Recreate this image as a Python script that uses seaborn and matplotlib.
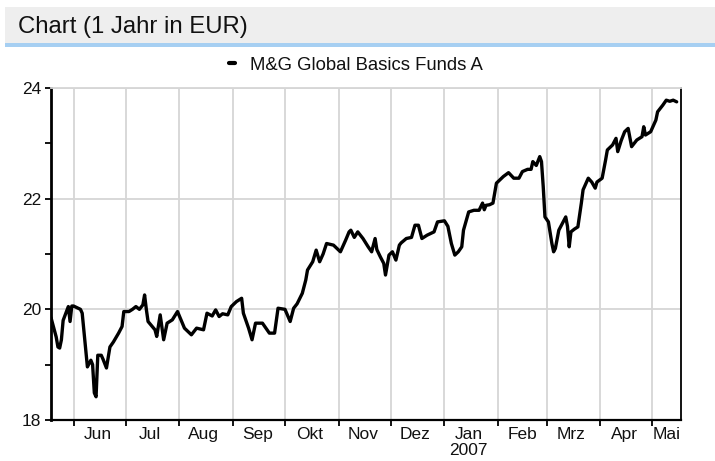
import matplotlib
matplotlib.use("Agg")
import matplotlib.pyplot as plt
import seaborn as sns
import pandas as pd
from matplotlib.patches import Rectangle

# ---------------- data ----------------
series_name = "M&G Global Basics Funds A"
title_text = "Chart (1 Jahr in EUR)"

dates = [
    "2006-05-19", "2006-05-22", "2006-05-23", "2006-05-24", "2006-05-25", "2006-05-26",
    "2006-05-29", "2006-05-30", "2006-05-31", "2006-06-01", "2006-06-05", "2006-06-06",
    "2006-06-07", "2006-06-08", "2006-06-09", "2006-06-11", "2006-06-12", "2006-06-13",
    "2006-06-14", "2006-06-15", "2006-06-17", "2006-06-18", "2006-06-20", "2006-06-22",
    "2006-06-24", "2006-06-27", "2006-06-29", "2006-06-30", "2006-07-03", "2006-07-05",
    "2006-07-07", "2006-07-09", "2006-07-11", "2006-07-12", "2006-07-13", "2006-07-14",
    "2006-07-18", "2006-07-19", "2006-07-21", "2006-07-23", "2006-07-25", "2006-07-28",
    "2006-07-31", "2006-08-04", "2006-08-08", "2006-08-11", "2006-08-15", "2006-08-17",
    "2006-08-20", "2006-08-22", "2006-08-24", "2006-08-26", "2006-08-29", "2006-08-31",
    "2006-09-03", "2006-09-06", "2006-09-07", "2006-09-10", "2006-09-12", "2006-09-14",
    "2006-09-18", "2006-09-20", "2006-09-22", "2006-09-25", "2006-09-27", "2006-10-01",
    "2006-10-04", "2006-10-06", "2006-10-08", "2006-10-11", "2006-10-13", "2006-10-14",
    "2006-10-17", "2006-10-19", "2006-10-21", "2006-10-23", "2006-10-25", "2006-10-29",
    "2006-11-02", "2006-11-05", "2006-11-07", "2006-11-08", "2006-11-10", "2006-11-12",
    "2006-11-15", "2006-11-18", "2006-11-20", "2006-11-22", "2006-11-23", "2006-11-25",
    "2006-11-27", "2006-11-28", "2006-11-30", "2006-12-02", "2006-12-04", "2006-12-06",
    "2006-12-07", "2006-12-10", "2006-12-13", "2006-12-15", "2006-12-17", "2006-12-19",
    "2006-12-22", "2006-12-26", "2006-12-28", "2007-01-01", "2007-01-03", "2007-01-05",
    "2007-01-07", "2007-01-09", "2007-01-11", "2007-01-12", "2007-01-15", "2007-01-18",
    "2007-01-21", "2007-01-23", "2007-01-24", "2007-01-25", "2007-01-27", "2007-01-29",
    "2007-01-31", "2007-02-01", "2007-02-04", "2007-02-07", "2007-02-10", "2007-02-13",
    "2007-02-15", "2007-02-18", "2007-02-20", "2007-02-21", "2007-02-23", "2007-02-25",
    "2007-02-26", "2007-02-27", "2007-02-28", "2007-03-02", "2007-03-04", "2007-03-05",
    "2007-03-06", "2007-03-08", "2007-03-10", "2007-03-12", "2007-03-13", "2007-03-14",
    "2007-03-15", "2007-03-17", "2007-03-19", "2007-03-21", "2007-03-22", "2007-03-25",
    "2007-03-27", "2007-03-29", "2007-03-30", "2007-04-02", "2007-04-04", "2007-04-05",
    "2007-04-08", "2007-04-10", "2007-04-11", "2007-04-13", "2007-04-15", "2007-04-17",
    "2007-04-19", "2007-04-22", "2007-04-25", "2007-04-26", "2007-04-27", "2007-04-30",
    "2007-05-03", "2007-05-04", "2007-05-07", "2007-05-09", "2007-05-11", "2007-05-13",
    "2007-05-15",
]

values = [
    19.85, 19.50, 19.32, 19.30, 19.45, 19.80,
    20.05, 19.78, 20.06, 20.06, 20.00, 19.93,
    19.60, 19.26, 18.96, 19.08, 19.00, 18.49,
    18.42, 19.17, 19.17, 19.10, 18.94, 19.32,
    19.41, 19.57, 19.69, 19.96, 19.96, 20.00,
    20.05, 20.00, 20.08, 20.26, 20.00, 19.78,
    19.63, 19.51, 19.90, 19.45, 19.75, 19.81,
    19.96, 19.66, 19.54, 19.66, 19.63, 19.93,
    19.88, 19.99, 19.87, 19.92, 19.90, 20.05,
    20.14, 20.20, 19.93, 19.66, 19.45, 19.75,
    19.75, 19.66, 19.57, 19.57, 20.02, 20.00,
    19.78, 20.02, 20.10, 20.29, 20.53, 20.71,
    20.86, 21.07, 20.86, 21.00, 21.19, 21.16,
    21.04, 21.25, 21.40, 21.43, 21.30, 21.40,
    21.28, 21.13, 21.04, 21.28, 21.08, 20.95,
    20.83, 20.62, 20.98, 21.04, 20.89, 21.16,
    21.20, 21.28, 21.30, 21.52, 21.52, 21.28,
    21.34, 21.40, 21.58, 21.60, 21.50, 21.19,
    20.98, 21.04, 21.13, 21.43, 21.76, 21.79,
    21.79, 21.92, 21.80, 21.88, 21.89, 21.92,
    22.28, 22.31, 22.40, 22.47, 22.37, 22.37,
    22.49, 22.53, 22.53, 22.67, 22.60, 22.76,
    22.67, 22.22, 21.67, 21.58, 21.19, 21.04,
    21.10, 21.43, 21.55, 21.67, 21.50, 21.13,
    21.40, 21.45, 21.49, 21.92, 22.16, 22.37,
    22.30, 22.19, 22.30, 22.37, 22.70, 22.88,
    22.97, 23.09, 22.85, 23.05, 23.21, 23.27,
    22.94, 23.06, 23.12, 23.30, 23.15, 23.21,
    23.42, 23.57, 23.69, 23.78, 23.76, 23.78,
    23.75,
]

month_labels = ["Jun", "Jul", "Aug", "Sep", "Okt", "Nov", "Dez", "Jan\n2007",
                "Feb", "Mrz", "Apr", "Mai"]
y_major = [18, 20, 22, 24]
y_minor = [19, 21, 23]

# ---------------- style ----------------
sns.set_theme(style="white")
plt.rcParams['font.family'] = ['Liberation Sans', 'DejaVu Sans']

W, H = 715, 461
fig = plt.figure(figsize=(W / 100, H / 100), dpi=100)
fig.patch.set_facecolor("white")

# header band
fig.add_artist(Rectangle((5 / W, 1 - 43.5 / H), (W - 5) / W, 36.5 / H,
                         transform=fig.transFigure, facecolor="#eeeeee",
                         edgecolor="none"))
fig.add_artist(Rectangle((5 / W, 1 - 47 / H), (W - 5) / W, 3.5 / H,
                         transform=fig.transFigure, facecolor="#a6cff2",
                         edgecolor="none"))
fig.text(18 / W, 1 - 27 / H, title_text, fontsize=17.2, va="center", ha="left",
         color="#111111")

ax = fig.add_axes([51 / W, 1 - 420 / H, 630 / W, 332 / H])

df = pd.DataFrame({"Datum": pd.to_datetime(dates), "Kurs": values})
sns.lineplot(data=df, x="Datum", y="Kurs", ax=ax, color="black",
             linewidth=2.4, label=series_name)

x_left = pd.Timestamp("2006-05-19")
x_right = pd.Timestamp("2007-05-17 12:00")
ax.set_xlim(x_left, x_right)
ax.set_ylim(18, 24)

month_starts = list(pd.date_range("2006-06-01", "2007-05-01", freq="MS"))
mids = [m + pd.Timedelta(days=14) for m in month_starts[:-1]]
mids.append(month_starts[-1] + (x_right - month_starts[-1]) / 2)

ax.set_xticks(month_starts)
ax.set_xticklabels([""] * len(month_starts))
ax.set_xticks(mids, minor=True)
ax.set_xticklabels(month_labels, minor=True, fontsize=12.5, color="#111111",
                   linespacing=1.05)
ax.tick_params(axis="x", which="major", bottom=True, length=4, width=1.3,
               color="black")
ax.tick_params(axis="x", which="minor", bottom=True, length=0, pad=5)

ax.set_yticks(y_major)
ax.set_yticklabels([str(v) for v in y_major], fontsize=12.5, color="#111111")
ax.set_yticks(y_minor, minor=True)
ax.tick_params(axis="y", which="both", left=True, length=4, width=1.3,
               color="black", pad=3)

ax.grid(True, which="major", color="#d6d6d6", linewidth=1.3)
ax.set_axisbelow(True)

ax.spines["left"].set_color("black")
ax.spines["left"].set_linewidth(2.0)
ax.spines["bottom"].set_color("black")
ax.spines["bottom"].set_linewidth(1.6)
ax.spines["right"].set_color("black")
ax.spines["right"].set_linewidth(1.3)
ax.spines["top"].set_color("#d6d6d6")
ax.spines["top"].set_linewidth(1.3)

ax.set_xlabel("")
ax.set_ylabel("")

handles, labels = ax.get_legend_handles_labels()
ax.get_legend().remove()
leg = fig.legend(handles, labels, loc="center",
                 bbox_to_anchor=(356 / W, 1 - 65 / H), frameon=False,
                 handlelength=0.3, handletextpad=0.8, fontsize=13.3)
for t in leg.get_texts():
    t.set_color("#111111")
for h in leg.legend_handles:
    h.set_linewidth(3)

fig.savefig("out.png", dpi=100)
